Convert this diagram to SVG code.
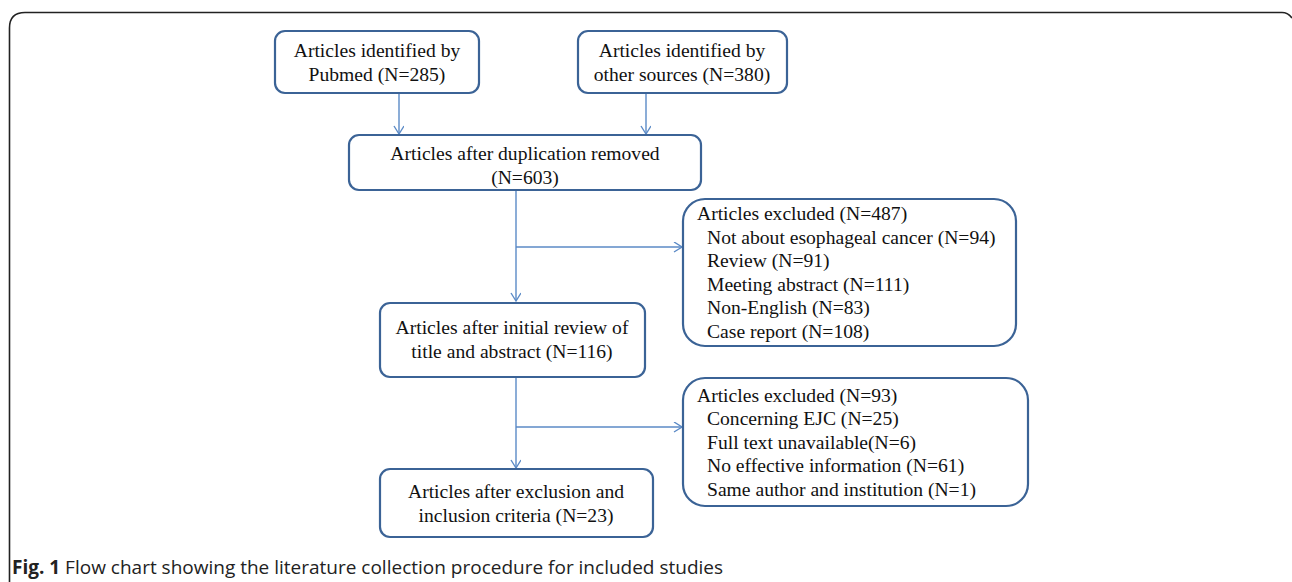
<svg xmlns="http://www.w3.org/2000/svg" width="1292" height="582" viewBox="0 0 1292 582">
<defs>
<style>
.box{fill:#fff;stroke:#3B6396;stroke-width:2.2}
.t{font-family:"Liberation Serif","Times New Roman",serif;font-size:19.6px;fill:#111}
.c{text-anchor:middle}
.ln{stroke:#5B8AC6;stroke-width:1.4;fill:none}
.cap{font-family:"Open Sans","Noto Sans",sans-serif;font-size:19px;fill:#222}
</style>
<marker id="ah" markerWidth="12" markerHeight="12" refX="9" refY="5" orient="auto" markerUnits="userSpaceOnUse">
<path d="M1,0 L9,5 L1,10" fill="none" stroke="#5B8AC6" stroke-width="1.4"/>
</marker>
</defs>
<rect width="1292" height="582" fill="#fff"/>
<path d="M9.5,582 L9.5,28 Q9.5,12.5 25,12.5 L1282,12.5 Q1288,12.5 1292,18" fill="none" stroke="#222" stroke-width="1.6"/>

<g id="connectors">
<line class="ln" x1="399" y1="93" x2="399" y2="134" marker-end="url(#ah)"/>
<line class="ln" x1="646" y1="93" x2="646" y2="134" marker-end="url(#ah)"/>
<line class="ln" x1="516" y1="190" x2="516" y2="301" marker-end="url(#ah)"/>
<line class="ln" x1="516" y1="247" x2="682" y2="247" marker-end="url(#ah)"/>
<line class="ln" x1="516" y1="377" x2="516" y2="468" marker-end="url(#ah)"/>
<line class="ln" x1="516" y1="427" x2="682" y2="427" marker-end="url(#ah)"/>
</g>

<g id="n1">
<rect class="box" x="275" y="31" width="204" height="62" rx="10"/>
<text class="t c" x="377" y="57">Articles identified by</text>
<text class="t c" x="377" y="81">Pubmed (N=285)</text>
</g>
<g id="n2">
<rect class="box" x="578" y="31" width="209" height="62" rx="10"/>
<text class="t c" x="682" y="57">Articles identified by</text>
<text class="t c" x="682" y="81">other sources (N=380)</text>
</g>
<g id="n3">
<rect class="box" x="349" y="135" width="352" height="55" rx="10"/>
<text class="t c" x="525" y="160">Articles after duplication removed</text>
<text class="t c" x="525" y="184">(N=603)</text>
</g>
<g id="n4">
<rect class="box" x="683" y="199" width="333" height="147" rx="22"/>
<text class="t" x="697" y="220">Articles excluded (N=487)</text>
<text class="t" x="707" y="244">Not about esophageal cancer (N=94)</text>
<text class="t" x="707" y="267">Review (N=91)</text>
<text class="t" x="707" y="291">Meeting abstract (N=111)</text>
<text class="t" x="707" y="314">Non-English (N=83)</text>
<text class="t" x="707" y="338">Case report (N=108)</text>
</g>
<g id="n5">
<rect class="box" x="380" y="303" width="265" height="74" rx="10"/>
<text class="t c" x="512" y="334">Articles after initial review of</text>
<text class="t c" x="512" y="358">title and abstract (N=116)</text>
</g>
<g id="n6">
<rect class="box" x="683" y="378" width="345" height="128" rx="22"/>
<text class="t" x="697" y="402">Articles excluded (N=93)</text>
<text class="t" x="707" y="425">Concerning EJC (N=25)</text>
<text class="t" x="707" y="449">Full text unavailable(N=6)</text>
<text class="t" x="707" y="472">No effective information (N=61)</text>
<text class="t" x="707" y="496">Same author and institution (N=1)</text>
</g>
<g id="n7">
<rect class="box" x="380" y="469" width="273" height="68" rx="10"/>
<text class="t c" x="516" y="498">Articles after exclusion and</text>
<text class="t c" x="516" y="522">inclusion criteria (N=23)</text>
</g>

<text class="cap" x="12" y="574"><tspan font-weight="bold">Fig. 1</tspan> Flow chart showing the literature collection procedure for included studies</text>
</svg>
